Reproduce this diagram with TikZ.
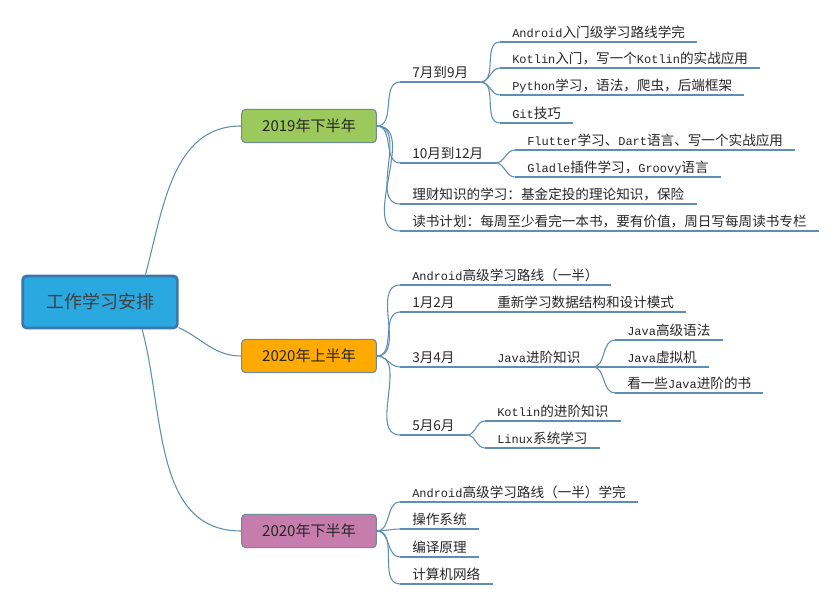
\documentclass[tikz,border=0pt]{standalone}
\usepackage{fontspec}
\setmainfont{Noto Sans CJK SC}
\newfontfamily\monofnt[Scale=0.88]{Liberation Mono}
\newcommand\en[1]{{\monofnt #1}}
\usetikzlibrary{positioning}

\definecolor{rootblue}{HTML}{2AA8E0}
\definecolor{rootedge}{HTML}{3B78AA}
\definecolor{leafgreen}{HTML}{9BC95B}
\definecolor{sunorange}{HTML}{FFAA00}
\definecolor{rosepink}{HTML}{C77CAE}
\definecolor{linkblue}{HTML}{5F8DB4}
\definecolor{boxedge}{HTML}{6F8C94}

\begin{document}
\begin{tikzpicture}[
        x=0.75pt, y=-0.75pt,
        root/.style = {draw=rootedge, line width=2pt, fill=rootblue, rounded corners=3pt, minimum width=116pt, minimum height=39pt, font=\fontsize{13.5}{16}\selectfont, text=black!75},
        half/.style = {draw=boxedge, line width=0.8pt, rounded corners=3pt, minimum width=101pt, minimum height=25pt, font=\fontsize{11.3}{13}\selectfont, text=black!85},
        topic/.style = {anchor=south west, inner xsep=9pt, inner ysep=1pt, text height=7.5pt, text depth=2pt, font=\fontsize{10.2}{12}\selectfont, text=black!85},
        link/.style = {draw=linkblue, line width=0.8pt}
    ]
    \useasboundingbox (0,0) rectangle (837,605);

    \node[root] (root) at (100,302) {工作学习安排};
    \node[half, fill=leafgreen] (y19) at (309,126) {2019年下半年};
    \node[half, fill=sunorange] (s20) at (309,356) {2020年上半年};
    \node[half, fill=rosepink] (w20) at (309,531) {2020年下半年};

    % 2019 second half
    \node[topic] (m79) at (400,82) {7月到9月};
    \node[topic] (a1) at (500,42) {\en{Android}入门级学习路线学完};
    \node[topic] (a2) at (500,68) {\en{Kotlin}入门，写一个\en{Kotlin}的实战应用};
    \node[topic] (a3) at (500,95) {\en{Python}学习，语法，爬虫，后端框架};
    \node[topic] (a4) at (500,123) {\en{Git}技巧};
    \node[topic] (m1012) at (400,163) {10月到12月};
    \node[topic] (b1) at (515,150) {\en{Flutter}学习、\en{Dart}语言、写一个实战应用};
    \node[topic] (b2) at (515,177) {\en{Gladle}插件学习，\en{Groovy}语言};
    \node[topic] (c1) at (400,204) {理财知识的学习：基金定投的理论知识，保险};
    \node[topic] (c2) at (400,231) {读书计划：每周至少看完一本书，要有价值，周日写每周读书专栏};

    % 2020 first half
    \node[topic] (p1) at (400,285) {\en{Android}高级学习路线（一半）};
    \node[topic] (p2) at (400,312) {1月2月};
    \node[topic] (p2a) at (485,312) {重新学习数据结构和设计模式};
    \node[topic] (p3) at (400,367) {3月4月};
    \node[topic] (p3a) at (485,367) {\en{Java}进阶知识};
    \node[topic] (p3a1) at (615,340) {\en{Java}高级语法};
    \node[topic] (p3a2) at (615,367) {\en{Java}虚拟机};
    \node[topic] (p3a3) at (615,393) {看一些\en{Java}进阶的书};
    \node[topic] (p4) at (400,435) {5月6月};
    \node[topic] (p4a) at (485,421) {\en{Kotlin}的进阶知识};
    \node[topic] (p4b) at (485,448) {\en{Linux}系统学习};

    % 2020 second half
    \node[topic] (q1) at (400,502) {\en{Android}高级学习路线（一半）学完};
    \node[topic] (q2) at (400,529) {操作系统};
    \node[topic] (q3) at (400,557) {编译原理};
    \node[topic] (q4) at (400,584) {计算机网络};

    % underlines
    \foreach \t in {m79,a1,a2,a3,a4,m1012,b1,b2,c1,c2,p1,p2,p2a,p3,p3a,p3a1,p3a2,p3a3,p4,p4a,p4b,q1,q2,q3,q4}
        \draw[link] (\t.south west) -- (\t.south east);

    % connectors
    \draw[link] (root.31) to[out=75, in=180] (y19.west);
    \draw[link] (root.-18) to[out=-25, in=180] (s20.west);
    \draw[link] (root.-33) to[out=-75, in=180] (w20.west);

    \foreach \t in {m79,m1012,c1,c2}
        \draw[link] (y19.east) to[out=0, in=180] (\t.south west);
    \foreach \t in {a1,a2,a3,a4}
        \draw[link] (m79.south east) to[out=0, in=180] (\t.south west);
    \foreach \t in {b1,b2}
        \draw[link] (m1012.south east) to[out=0, in=180] (\t.south west);

    \foreach \t in {p1,p2,p3,p4}
        \draw[link] (s20.east) to[out=0, in=180] (\t.south west);
    \draw[link] (p2.south east) -- (p2a.south west);
    \draw[link] (p3.south east) -- (p3a.south west);
    \foreach \t in {p3a1,p3a2,p3a3}
        \draw[link] (p3a.south east) to[out=0, in=180] (\t.south west);
    \foreach \t in {p4a,p4b}
        \draw[link] (p4.south east) to[out=0, in=180] (\t.south west);

    \foreach \t in {q1,q2,q3,q4}
        \draw[link] (w20.east) to[out=0, in=180] (\t.south west);
\end{tikzpicture}
\end{document}
